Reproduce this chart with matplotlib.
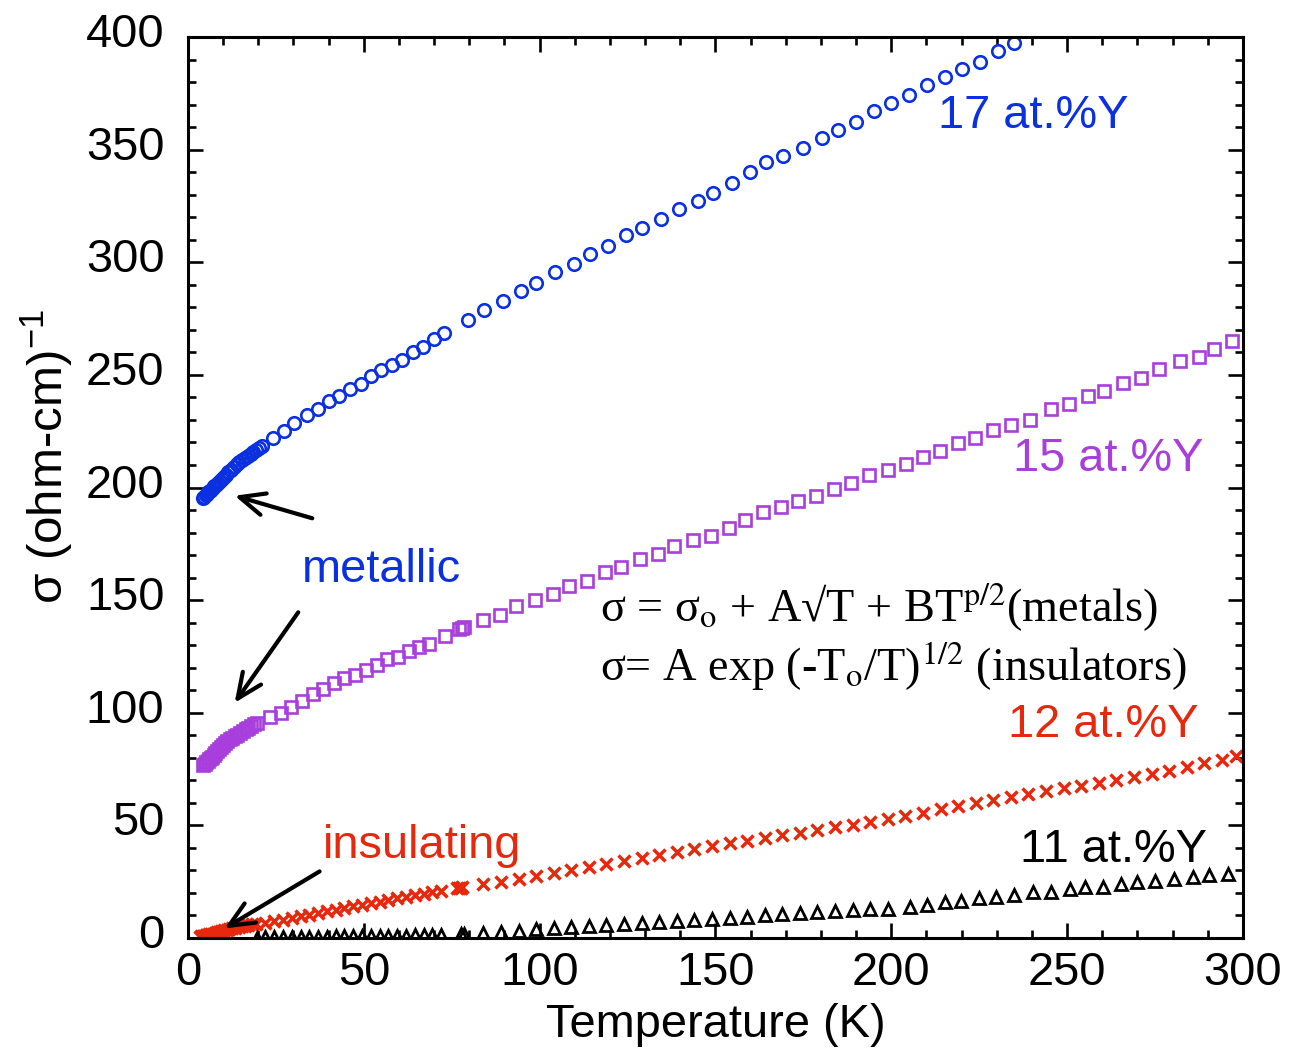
#!/usr/bin/env python
# conductivity vs temperature for Y-doped films

import numpy as np
import matplotlib
matplotlib.use('Agg')
import matplotlib.pyplot as plt
import matplotlib.transforms as mtransforms

plt.rcParams['font.family'] = ['Liberation Sans', 'DejaVu Sans']
plt.rcParams['font.size'] = 33.8
plt.rcParams['mathtext.fontset'] = 'custom'
plt.rcParams['mathtext.rm'] = 'Liberation Sans'
plt.rcParams['mathtext.it'] = 'Liberation Sans:italic'

#
#   data
#
# 17 at.%Y
T17 = [4.3, 4.6, 5.0, 5.4, 5.8, 6.2, 6.6, 7.0, 7.5, 8.0, 8.5, 9.0, 9.6, 10.2,
       10.8, 11.5, 12.2, 13.0, 13.8, 14.6, 15.4, 16.2, 17.0, 17.8, 18.6, 19.4,
       20.2, 21.0, 24.3, 27.4, 30.2, 33.9, 36.9, 40.0, 43.0, 46.1, 49.1, 52.0,
       54.9, 58.0, 60.9, 63.9, 66.9, 70.0, 72.9, 79.7, 84.1, 89.5, 94.6, 99.1,
       104.4, 109.7, 114.2, 119.3, 124.5, 129.2, 134.4, 139.7, 144.9, 149.4,
       154.7, 159.9, 164.3, 169.2, 175.0, 180.2, 184.7, 189.9, 195.1, 199.8,
       205.0, 210.2, 215.4, 220.0, 225.2, 230.4, 234.9]
s17 = [195.3, 195.8, 196.5, 197.2, 197.8, 198.4, 199.0, 199.7, 200.5, 201.3,
       202.1, 202.9, 203.8, 204.8, 205.7, 206.8, 208.0, 209.3, 210.3, 211.3,
       212.2, 213.2, 214.1, 215.0, 215.9, 216.7, 217.5, 218.3, 222.1, 225.2,
       228.8, 232.3, 234.8, 238.3, 240.7, 243.9, 246.1, 249.5, 252.1, 254.6,
       256.8, 260.2, 262.6, 266.0, 268.6, 274.2, 279.0, 282.7, 287.4, 290.9,
       295.5, 299.1, 303.8, 307.3, 312.0, 315.4, 319.1, 323.6, 327.2, 330.6,
       335.2, 339.9, 344.6, 347.4, 350.9, 355.3, 358.7, 362.4, 367.2, 370.6,
       374.1, 378.7, 382.1, 385.8, 389.1, 393.8, 397.2]

# 15 at.%Y
T15 = [4.4, 4.8, 5.2, 5.6, 6.0, 6.4, 6.8, 7.3, 7.8, 8.3, 8.8, 9.4, 10.0, 10.6,
       11.2, 11.9, 12.6, 13.3, 14.0, 14.8, 15.6, 16.4, 17.2, 18.0, 18.8, 19.6,
       23.3, 26.4, 29.3, 32.4, 35.5, 38.5, 41.5, 44.4, 47.5, 50.5, 53.7, 56.7,
       59.7, 62.8, 65.8, 68.6, 73.0, 77.2, 77.8, 78.4, 84.0, 88.7, 93.3, 98.7,
       103.7, 108.4, 113.5, 118.7, 123.2, 128.5, 133.6, 138.2, 143.5, 148.8,
       153.9, 158.5, 163.6, 168.7, 173.4, 178.6, 183.7, 188.4, 193.7, 199.0,
       204.2, 208.9, 213.8, 219.1, 223.9, 229.0, 234.1, 239.4, 245.3, 250.6,
       255.9, 260.4, 265.8, 270.9, 276.2, 282.1, 287.4, 291.9, 297.0]
s15 = [76.8, 77.4, 78.0, 78.6, 79.3, 79.9, 80.5, 81.3, 82.1, 82.9, 83.7, 84.6,
       85.5, 86.4, 87.4, 88.2, 89.0, 89.6, 90.3, 91.0, 91.8, 92.6, 93.4, 94.1,
       94.8, 95.5, 98.0, 99.8, 102.7, 105.1, 108.4, 110.7, 113.1, 115.5, 116.7,
       119.0, 121.4, 123.8, 124.9, 127.3, 129.4, 130.6, 134.2, 137.3, 137.6,
       138.0, 141.3, 143.6, 147.3, 150.1, 152.9, 156.3, 158.5, 162.3, 164.8,
       168.2, 170.6, 174.0, 176.5, 178.6, 182.0, 185.6, 189.1, 191.2, 193.9,
       196.2, 199.5, 201.9, 205.4, 207.8, 210.4, 213.7, 216.1, 219.6, 222.0,
       225.5, 227.6, 230.0, 234.7, 237.1, 240.6, 243.0, 246.5, 248.6, 252.5,
       256.0, 258.1, 261.6, 265.2]

# 12 at.%Y
T12 = [3.4, 3.8, 4.2, 4.6, 5.0, 5.5, 6.0, 6.5, 7.0, 7.6, 8.2, 8.8, 9.5, 10.2,
       11.0, 11.8, 12.6, 13.5, 14.4, 15.3, 16.2, 17.2, 18.2, 19.2, 22.0, 24.5,
       27.0, 29.5, 32.0, 34.5, 37.0, 39.5, 42.0, 44.5, 47.0, 49.5, 52.0, 54.5,
       57.0, 59.5, 62.0, 64.5, 67.0, 69.5, 72.0, 76.5, 77.0, 77.5, 78.0, 84.0,
       89.0, 94.0, 99.0, 104.0, 109.0, 114.0, 119.0, 124.0, 129.0, 134.0,
       139.0, 144.0, 149.0, 154.0, 159.0, 164.0, 169.0, 174.0, 179.0, 184.0,
       189.0, 194.0, 199.0, 204.0, 209.0, 214.0, 219.0, 224.0, 229.0, 234.0,
       239.0, 244.0, 249.0, 254.0, 259.0, 264.0, 269.0, 274.0, 279.0, 284.0,
       289.0, 294.0, 298.0]
s12 = [0.6, 0.7, 0.9, 1.0, 1.2, 1.4, 1.6, 1.8, 2.0, 2.3, 2.6, 2.8, 3.1, 3.4,
       3.7, 4.0, 4.3, 4.6, 4.9, 5.2, 5.5, 5.8, 6.1, 6.4, 6.6, 7.4, 8.2, 8.9,
       9.7, 10.4, 11.2, 11.9, 12.6, 13.3, 14.1, 14.8, 15.5, 16.2, 16.9, 17.6,
       18.3, 19.0, 19.7, 20.3, 21.0, 22.0, 22.2, 22.4, 22.5, 23.8, 25.0, 26.3,
       27.6, 28.9, 30.1, 31.4, 32.7, 34.0, 35.4, 36.7, 38.0, 39.4, 40.7, 42.0,
       43.2, 44.4, 45.6, 46.8, 48.0, 49.1, 50.3, 51.5, 52.9, 54.3, 55.7, 57.1,
       58.6, 60.0, 61.4, 62.8, 64.1, 65.3, 66.5, 67.7, 68.9, 70.1, 71.3, 72.7,
       74.3, 75.9, 77.5, 79.2, 81.0]

# 11 at.%Y
T11 = [19.5, 22.0, 24.5, 27.0, 29.5, 32.0, 34.5, 37.0, 39.5, 42.0, 44.5, 47.0,
       49.5, 52.0, 54.5, 57.0, 59.5, 62.0, 64.5, 67.0, 69.5, 72.0, 77.5, 78.5,
       84.0, 89.0, 94.0, 99.0, 104.0, 109.0, 114.0, 119.0, 124.0, 129.0, 134.0,
       139.0, 144.0, 149.0, 154.0, 159.0, 164.0, 169.0, 174.0, 179.0, 184.0,
       189.0, 194.0, 199.0, 205.3, 210.2, 215.2, 219.8, 225.0, 229.9, 235.0,
       240.2, 245.3, 250.8, 255.0, 260.3, 265.2, 269.9, 275.1, 280.4, 285.7,
       290.4, 295.8]
s11 = [0.2, 0.3, 0.3, 0.4, 0.4, 0.5, 0.5, 0.6, 0.6, 0.7, 0.7, 0.8, 0.8, 0.9,
       0.9, 1.0, 1.0, 1.1, 1.2, 1.3, 1.4, 1.5, 1.8, 1.9, 2.3, 2.8, 3.3, 4.0,
       4.6, 5.0, 5.5, 5.9, 6.3, 6.7, 7.1, 7.5, 7.9, 8.3, 8.8, 9.5, 10.0, 10.5,
       11.0, 11.5, 11.9, 12.3, 12.7, 13.1, 13.8, 14.8, 16.0, 16.6, 17.6, 18.0,
       19.0, 20.3, 20.6, 21.8, 22.5, 22.8, 24.0, 25.0, 25.4, 26.3, 27.0, 27.8,
       28.4]

c_blue = '#0a30e0'
c_purp = '#a83fdc'
c_red = '#e6280c'

#
#   plot
#
fig = plt.figure(figsize=(13.01, 10.49), dpi=100)
ax = fig.add_axes([0.1445, 0.1058, 0.8109, 0.8589])

ax.plot(T17, s17, 'o', mfc='none', mec=c_blue, ms=9.0, mew=1.9, ls='none')
ax.plot(T15, s15, 's', mfc='none', mec=c_purp, ms=8.6, mew=1.9, ls='none')
ax.plot(T12, s12, 'x', color=c_red, ms=9.0, mew=2.5, ls='none')
ax.plot(T11, s11, '^', mfc='none', mec='k', ms=8.6, mew=2.0, ls='none')

ax.set_xlim(0, 300)
ax.set_ylim(0, 400)
ax.set_xticks(np.arange(0, 301, 50))
ax.set_yticks(np.arange(0, 401, 50))
ax.set_xticks(np.arange(0, 301, 10), minor=True)
ax.set_yticks(np.arange(0, 401, 10), minor=True)
ax.tick_params(which='both', direction='in', top=True, right=True, width=1.9)
ax.tick_params(which='major', length=10.8, pad=9)
ax.tick_params(which='minor', length=5.8)
ax.tick_params(axis='y', pad=17)
for sp in ax.spines.values():
    sp.set_linewidth(2.2)

# y tick labels sit a little above their ticks in the original
up = mtransforms.ScaledTranslation(0, 5 / 72, fig.dpi_scale_trans)
for lab in ax.get_yticklabels():
    lab.set_transform(lab.get_transform() + up)

ax.set_xlabel('Temperature (K)', labelpad=6)
ax.set_ylabel('σ (ohm-cm)$^{-1}$', fontsize=35.5)
ax.yaxis.set_label_coords(-0.106, 0.534)

# series labels
ax.text(213.3, 359.6, '17 at.%Y', color=c_blue, va='baseline')
ax.text(234.6, 207.3, '15 at.%Y', color=c_purp, va='baseline')
ax.text(233.2, 89.2, '12 at.%Y', color=c_red, va='baseline')
ax.text(236.6, 33.7, '11 at.%Y', color='k', va='baseline')
ax.text(32.4, 158.0, 'metallic', color=c_blue, va='baseline')
ax.text(38.4, 35.5, 'insulating', color=c_red, va='baseline')

# equations
eq_kw = dict(family=['Liberation Serif', 'DejaVu Serif'], math_fontfamily='stix',
             va='baseline', fontsize=33.3)
ax.text(117.1, 140.3, r'σ = σ$_\mathrm{o}$ + A√T + BT$^\mathrm{p/2}$(metals)', **eq_kw)
ax.text(117.1, 114.5, r'σ= A exp (-T$_\mathrm{o}$/T)$^\mathrm{1/2}$ (insulators)', **eq_kw)

# arrows
arr = dict(arrowstyle='->, head_length=0.45, head_width=0.2', color='k',
           lw=3.0, mutation_scale=40)
ax.annotate('', xy=(12.5, 196.7), xytext=(36.1, 186.0), arrowprops=arr)
ax.annotate('', xy=(12.8, 103.4), xytext=(31.8, 145.6), arrowprops=arr)
ax.annotate('', xy=(9.7, 3.6), xytext=(38.1, 30.2), arrowprops=arr)

fig.savefig('out.png', dpi=100)
